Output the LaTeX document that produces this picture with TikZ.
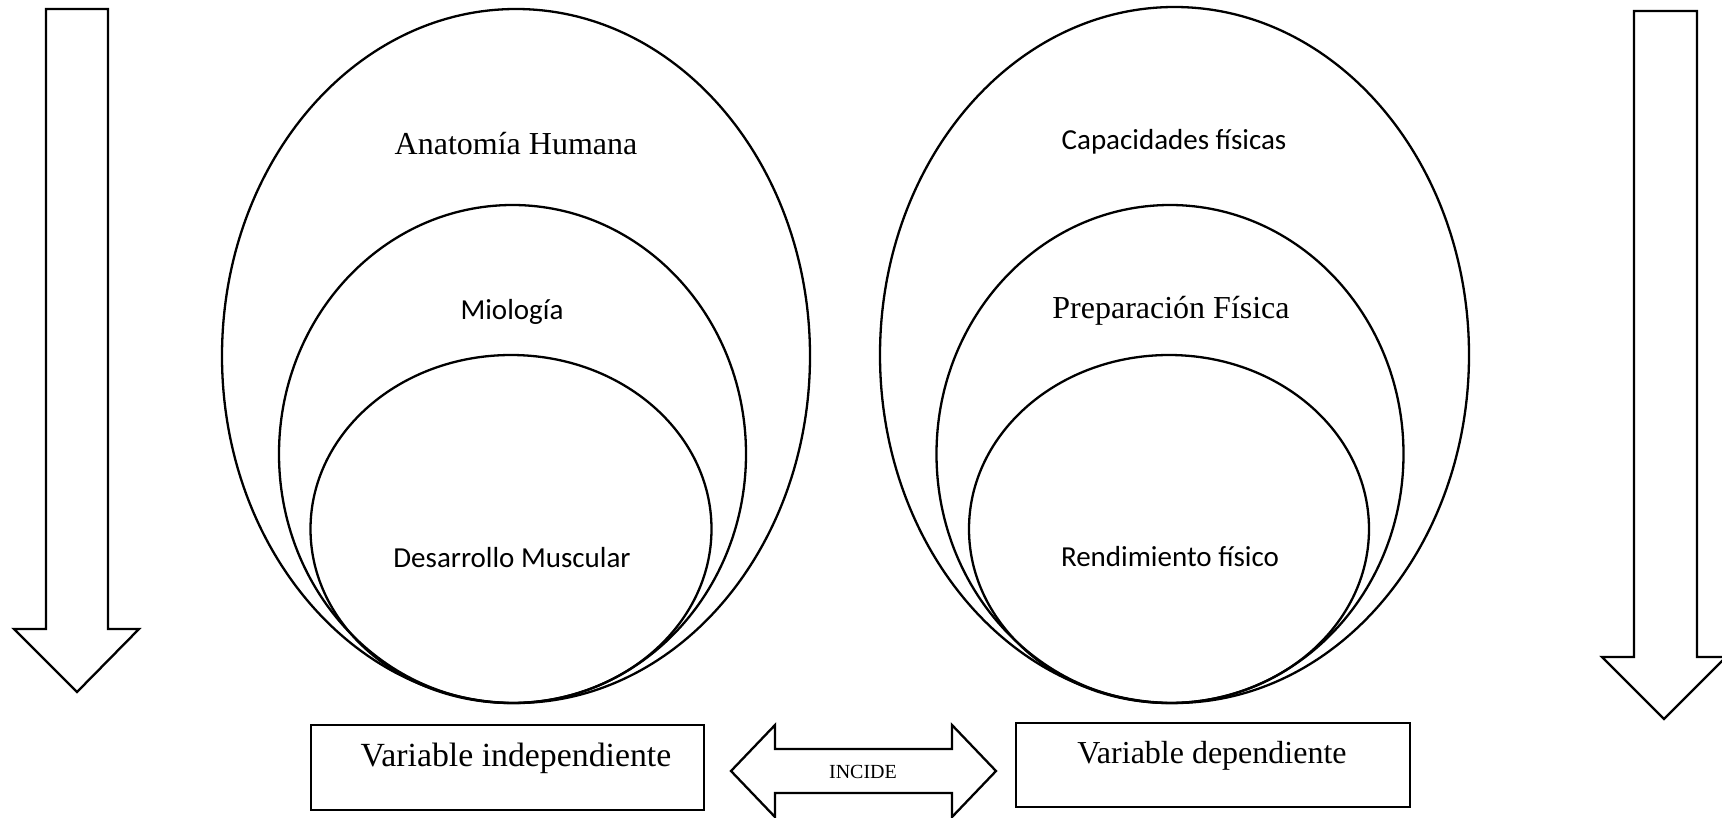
\documentclass[tikz,border=0pt]{standalone}
\usepackage{fontspec}
\setmainfont{Liberation Serif}
\newfontfamily\calibrifont{Carlito}
\usetikzlibrary{shapes.geometric}
\begin{document}
\begin{tikzpicture}[x=1pt,y=-1pt, line width=2.3pt, line join=miter,
  oval/.style={draw, ellipse, inner sep=0pt, outer sep=0pt},
  serifl/.style={font=\fontsize{32}{38}\selectfont, inner sep=0pt},
  sansl/.style={font=\calibrifont\fontsize{29}{35}\selectfont, inner sep=0pt},
  varbox/.style={draw, rectangle, inner sep=0pt},
  bigarrow/.style={draw, fill=white}]
\useasboundingbox (0,0) rectangle (1722,817);
% vertical arrows
\draw[bigarrow] (46,9) -- (108,9) -- (108,629) -- (139,629) -- (77,692) -- (14,629) -- (46,629) -- cycle;
\draw[bigarrow] (1634,11) -- (1697,11) -- (1697,657) -- (1726,657) -- (1664,719) -- (1602,657) -- (1634,657) -- cycle;
% left ellipses
\node[oval, minimum width=588pt, minimum height=694pt] (anat) at (516,356) {};
\node[oval, minimum width=467pt, minimum height=498pt] (mio) at (512.5,454) {};
\node[oval, minimum width=401pt, minimum height=348pt] (des) at (511,529) {};
\node[serifl] (tanat) at (516,144) {Anatomía Humana};
\node[sansl] (tmio) at (512,312) {Miología};
\node[sansl] (tdes) at (512,558) {Desarrollo Muscular};
% right ellipses
\node[oval, minimum width=589pt, minimum height=696pt] (cap) at (1174.5,355) {};
\node[oval, minimum width=467pt, minimum height=498pt] (prep) at (1170,454) {};
\node[oval, minimum width=400pt, minimum height=348pt] (rend) at (1169,529) {};
\node[sansl] (tcap) at (1174,142) {Capacidades físicas};
\node[serifl] (tprep) at (1171,311) {Preparación Física};
\node[sansl] (trend) at (1170,557) {Rendimiento físico};
% boxes
\node[varbox, minimum width=393pt, minimum height=85pt] (vi) at (507.5,767.5) {};
\node[serifl, font=\fontsize{33.8}{40}\selectfont] (tvi) at (516,758) {Variable independiente};
\node[varbox, minimum width=394pt, minimum height=84pt] (vd) at (1213,765) {};
\node[serifl] (tvd) at (1212,756) {Variable dependiente};
% double arrow
\draw[bigarrow] (731,771) -- (775,725) -- (775,749) -- (952,749) -- (952,725) -- (996,771) -- (952,817) -- (952,793) -- (775,793) -- (775,817) -- cycle;
\node[font=\fontsize{20}{24}\selectfont, inner sep=0pt] (inc) at (863,772) {INCIDE};
\end{tikzpicture}
\end{document}
